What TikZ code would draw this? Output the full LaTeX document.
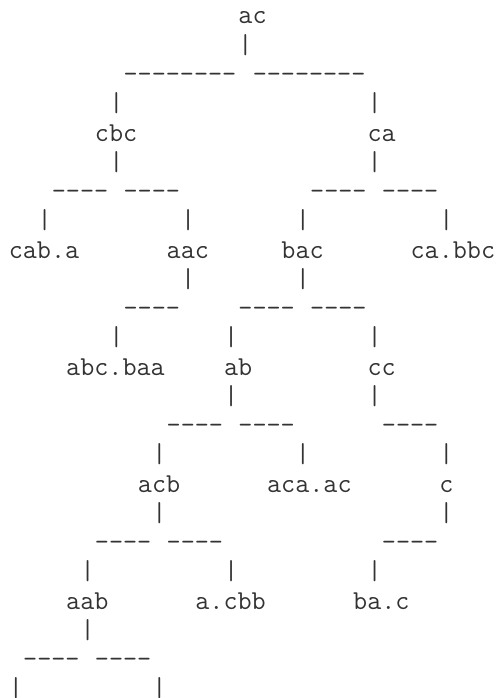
\documentclass[tikz,border=0pt]{standalone}
\usepackage{fontspec}
\newcommand\dfour{-\kern0pt-\kern0pt-\kern0pt-}
\newcommand\deight{\dfour\kern0pt\dfour}
% one character cell: 14.35pt wide, rows 29.25pt apart
\newcommand\tk[3]{\node[cell] (n#1c#2) at ({8.83pt+14.35pt*#2},{-24pt-29.25pt*(#1-1)}) {#3};}
\begin{document}
\begin{tikzpicture}[
  cell/.style={inner sep=0pt, outer sep=0pt, anchor=base west, text=black!80,
    font=\ttfamily\fontsize{27.33}{29}\selectfont}]
\fill[white] (0,0) rectangle (500pt,-698pt);
\useasboundingbox (0,0) rectangle (500pt,-698pt);
\tk{1}{16}{ac}
\tk{2}{16}{|}
\tk{3}{8}{\deight}\tk{3}{17}{\deight}
\tk{4}{7}{|}\tk{4}{25}{|}
\tk{5}{6}{cbc}\tk{5}{25}{ca}
\tk{6}{7}{|}\tk{6}{25}{|}
\tk{7}{3}{\dfour}\tk{7}{8}{\dfour}\tk{7}{21}{\dfour}\tk{7}{26}{\dfour}
\tk{8}{2}{|}\tk{8}{12}{|}\tk{8}{20}{|}\tk{8}{30}{|}
\tk{9}{0}{cab.a}\tk{9}{11}{aac}\tk{9}{19}{bac}\tk{9}{28}{ca.bbc}
\tk{10}{12}{|}\tk{10}{20}{|}
\tk{11}{8}{\dfour}\tk{11}{16}{\dfour}\tk{11}{21}{\dfour}
\tk{12}{7}{|}\tk{12}{15}{|}\tk{12}{25}{|}
\tk{13}{4}{abc.baa}\tk{13}{15}{ab}\tk{13}{25}{cc}
\tk{14}{15}{|}\tk{14}{25}{|}
\tk{15}{11}{\dfour}\tk{15}{16}{\dfour}\tk{15}{26}{\dfour}
\tk{16}{10}{|}\tk{16}{20}{|}\tk{16}{30}{|}
\tk{17}{9}{acb}\tk{17}{18}{aca.ac}\tk{17}{30}{c}
\tk{18}{10}{|}\tk{18}{30}{|}
\tk{19}{6}{\dfour}\tk{19}{11}{\dfour}\tk{19}{26}{\dfour}
\tk{20}{5}{|}\tk{20}{15}{|}\tk{20}{25}{|}
\tk{21}{4}{aab}\tk{21}{13}{a.cbb}\tk{21}{24}{ba.c}
\tk{22}{5}{|}
\tk{23}{1}{\dfour}\tk{23}{6}{\dfour}
\tk{24}{0}{|}\tk{24}{10}{|}
\end{tikzpicture}
\end{document}
